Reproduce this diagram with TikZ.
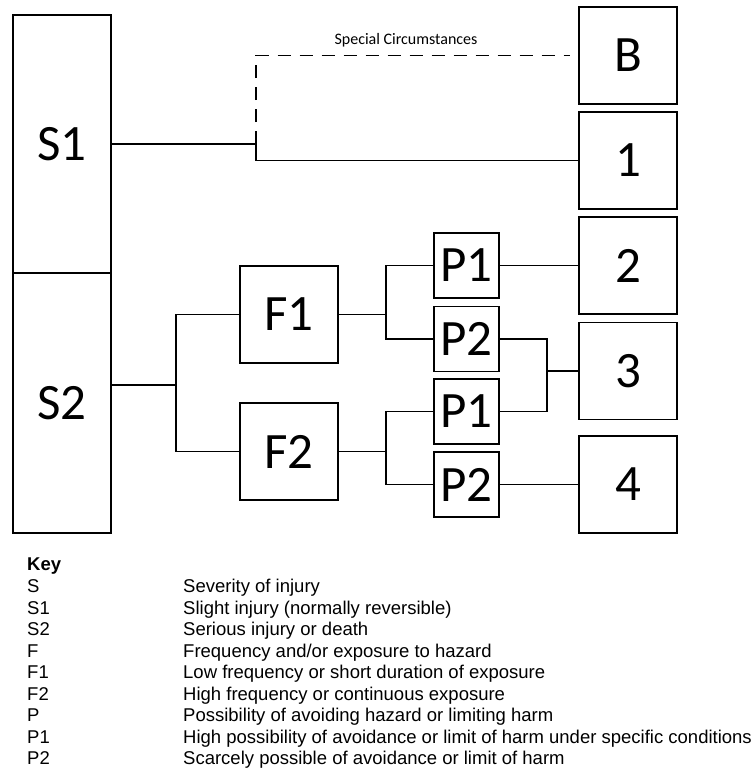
\documentclass[tikz,border=0pt]{standalone}
\usepackage{fontspec}
\setmainfont{Carlito}
\newfontfamily\keyfont{Liberation Sans}
\begin{document}
\begin{tikzpicture}[x=1pt,y=-1pt,
  box/.style={draw, line width=1.6pt, inner sep=0pt, font=\fontsize{51}{51}\selectfont},
  bigbox/.style={box, minimum width=98pt, minimum height=97pt},
  pbox/.style={box, minimum width=65pt, minimum height=65pt},
  conn/.style={line width=1.5pt},
  keytxt/.style={anchor=base west, inner sep=0pt, font=\keyfont\fontsize{18.5}{18.5}\selectfont}]
\useasboundingbox (0,0) rectangle (754,768);
% severity column
\node[box, minimum width=98pt, minimum height=258pt] (S1) at (62,144) {S1};
\node[box, minimum width=98pt, minimum height=260pt] (S2) at (62,403) {S2};
% outcomes
\node[bigbox] (B) at (628,55.5) {B};
\node[bigbox] (one) at (628,160.5) {1};
\node[bigbox] (two) at (628,265.5) {2};
\node[bigbox] (three) at (628,371) {3};
\node[bigbox] (four) at (628,484.5) {4};
% frequency
\node[bigbox] (F1) at (289,314.5) {F1};
\node[bigbox] (F2) at (289,451.5) {F2};
% possibility
\node[pbox] (P1a) at (466.5,265.5) {P1};
\node[pbox] (P2a) at (466.5,339) {P2};
\node[pbox] (P1b) at (466.5,411.5) {P1};
\node[pbox] (P2b) at (466.5,484.5) {P2};
% label
\node[font=\fontsize{16}{16}\selectfont, inner sep=0pt] (sc) at (406,40) {Special Circumstances};
% junctions
\coordinate (jS1) at (256,144);
\coordinate (jS2) at (176,385);
\coordinate (jF1) at (386,314.5);
\coordinate (jF2) at (386,451.5);
\coordinate (j3) at (547,371);
% connectors
\draw[conn] (S1.east) -- (jS1) |- (one.west);
\draw[conn, dash pattern=on 13pt off 9pt] (jS1) |- ([xshift=-8pt]B.west);
\draw[conn] (S2.east |- jS2) -- (jS2);
\draw[conn] (jS2) |- (F1.west);
\draw[conn] (jS2) |- (F2.west);
\draw[conn] (F1.east) -- (jF1);
\draw[conn] (jF1) |- (P1a.west);
\draw[conn] (jF1) |- (P2a.west);
\draw[conn] (F2.east) -- (jF2);
\draw[conn] (jF2) |- (P1b.west);
\draw[conn] (jF2) |- (P2b.west);
\draw[conn] (P1a.east) -- (two.west);
\draw[conn] (P2a.east) -| (j3) -- (three.west);
\draw[conn] (P1b.east) -| (j3);
\draw[conn] (P2b.east) -- (four.west);
% key
\node[keytxt, font=\keyfont\bfseries\fontsize{18.5}{18.5}\selectfont] (key) at (27,570.3) {Key};
\node[keytxt] (kS) at (27,592.8) {S};
\node[keytxt] (kSd) at (183,592.8) {Severity of injury};
\node[keytxt] (kS1) at (27,614.3) {S1};
\node[keytxt] (kS1d) at (183,614.3) {Slight injury (normally reversible)};
\node[keytxt] (kS2) at (27,635.8) {S2};
\node[keytxt] (kS2d) at (183,635.8) {Serious injury or death};
\node[keytxt] (kF) at (27,657.3) {F};
\node[keytxt] (kFd) at (183,657.3) {Frequency and/or exposure to hazard};
\node[keytxt] (kF1) at (27,678.8) {F1};
\node[keytxt] (kF1d) at (183,678.8) {Low frequency or short duration of exposure};
\node[keytxt] (kF2) at (27,700.3) {F2};
\node[keytxt] (kF2d) at (183,700.3) {High frequency or continuous exposure};
\node[keytxt] (kP) at (27,721.8) {P};
\node[keytxt] (kPd) at (183,721.8) {Possibility of avoiding hazard or limiting harm};
\node[keytxt] (kP1) at (27,743.3) {P1};
\node[keytxt] (kP1d) at (183,743.3) {High possibility of avoidance or limit of harm under specific conditions};
\node[keytxt] (kP2) at (27,764.8) {P2};
\node[keytxt] (kP2d) at (183,764.8) {Scarcely possible of avoidance or limit of harm};
\end{tikzpicture}
\end{document}
